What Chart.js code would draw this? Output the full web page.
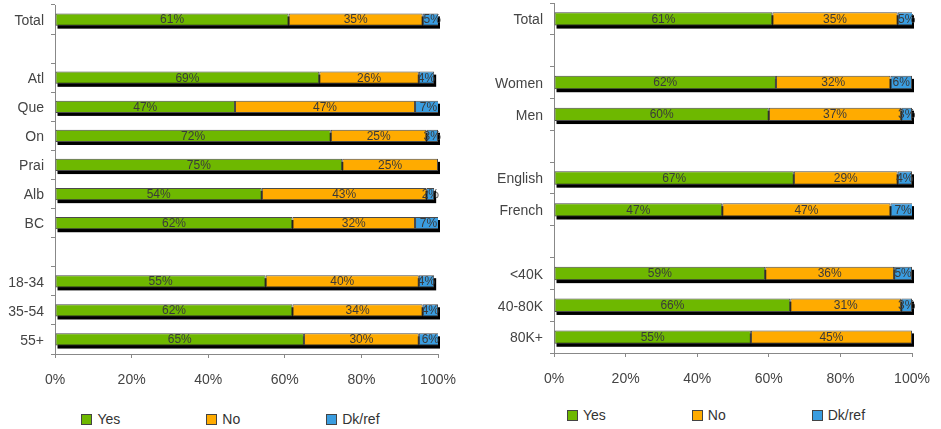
<!DOCTYPE html>
<html><head><meta charset="utf-8">
<script src="https://cdn.jsdelivr.net/npm/chart.js@4/dist/chart.umd.min.js"></script>
<style>
html,body{margin:0;padding:0;background:#fff;width:941px;height:429px;overflow:hidden;font-family:'Liberation Sans',Arial,sans-serif;}
.wrap{position:absolute;top:0;}
.legend{position:absolute;display:flex;justify-content:center;gap:86px;font-size:14px;color:#333;line-height:16px;}
.item{display:flex;align-items:center;}
.sw{width:9px;height:9px;border:1px solid #444;margin-right:5px;}
</style></head><body>
<div class="wrap" style="left:0;width:461px;height:400px;"><canvas id="c1" width="461" height="400"></canvas></div>
<div class="wrap" style="left:491px;width:450px;height:400px;"><canvas id="c2" width="450" height="400"></canvas></div>
<div class="legend" id="lg1" style="left:0;width:461px;top:411px;"></div>
<div class="legend" id="lg2" style="left:491px;width:450px;top:407px;"></div>
<script>
const seriesNames = ['Yes', 'No', 'Dk/ref'];
const seriesColors = ['#6eb800', '#ffab00', '#3a9de0'];
const xTickValues = [0, 20, 40, 60, 80, 100];

const leftCategories = ['Total', '', 'Atl', 'Que', 'On', 'Prai', 'Alb', 'BC', '', '18-34', '35-54', '55+'];
const leftYes = [61, null, 69, 47, 72, 75, 54, 62, null, 55, 62, 65];
const leftNo  = [35, null, 26, 47, 25, 25, 43, 32, null, 40, 34, 30];
const leftDk  = [5, null, 4, 7, 3, 0, 2, 7, null, 4, 4, 6];

const rightCategories = ['Total', '', 'Women', 'Men', '', 'English', 'French', '', '<40K', '40-80K', '80K+'];
const rightYes = [61, null, 62, 60, null, 67, 47, null, 59, 66, 55];
const rightNo  = [35, null, 32, 37, null, 29, 47, null, 36, 31, 45];
const rightDk  = [5, null, 6, 3, null, 4, 7, null, 5, 3, 0];

const FONT = "'Liberation Sans', Arial, sans-serif";

const shadowPlugin = {
  id: 'barShadow',
  beforeDatasetsDraw(chart) {
    const ctx = chart.ctx, area = chart.chartArea;
    const n = chart.data.labels.length;
    ctx.save();
    ctx.fillStyle = '#000';
    for (let j = 0; j < n; j++) {
      let l = Infinity, r = -Infinity, t = 0, b = 0;
      chart.data.datasets.forEach((ds, i) => {
        if (ds.data[j] == null) return;
        const el = chart.getDatasetMeta(i).data[j];
        if (!el) return;
        const p = el.getProps(['x', 'y', 'base', 'height'], true);
        l = Math.min(l, p.base, p.x);
        r = Math.max(r, p.base, p.x);
        t = p.y - p.height / 2; b = p.y + p.height / 2;
      });
      if (r > l) {
        r = Math.min(r, area.right);
        ctx.fillRect(l + 2, t + 3, r - l, b - t);
      }
    }
    ctx.restore();
  }
};

const labelPlugin = {
  id: 'segLabels',
  afterDatasetsDraw(chart) {
    const ctx = chart.ctx;
    ctx.save();
    ctx.font = '12px ' + FONT;
    ctx.fillStyle = '#3a3a3a';
    ctx.textAlign = 'center';
    ctx.textBaseline = 'middle';
    chart.data.datasets.forEach((ds, i) => {
      const meta = chart.getDatasetMeta(i);
      meta.data.forEach((el, j) => {
        const v = ds.data[j];
        if (!v) return;
        const p = el.getProps(['x', 'y', 'base'], true);
        ctx.fillText(v + '%', (p.x + p.base) / 2, p.y + 0.5);
      });
    });
    ctx.restore();
  }
};

function makeChart(id, cats, series, yWidth, padTop, padRight, xHeight, catPct) {
  return new Chart(document.getElementById(id), {
    type: 'bar',
    data: {
      labels: cats,
      datasets: series.map((d, i) => ({
        label: seriesNames[i],
        data: d,
        backgroundColor: seriesColors[i],
        borderColor: '#4a4a4a',
        borderWidth: 1,
        borderSkipped: false,
        barPercentage: 1,
        categoryPercentage: catPct,
        clip: 0
      }))
    },
    options: {
      indexAxis: 'y',
      responsive: false,
      animation: false,
      layout: { padding: { top: padTop, right: padRight, left: 0, bottom: 0 } },
      plugins: { legend: { display: false }, tooltip: { enabled: false } },
      scales: {
        x: {
          stacked: true, min: 0, max: 100,
          afterBuildTicks: s => { s.ticks = xTickValues.map(v => ({ value: v })); },
          afterFit: s => { s.height = xHeight; s.paddingLeft = 0; s.paddingRight = 0; },
          grid: { display: true, drawOnChartArea: false, drawTicks: true, tickLength: 4, color: '#888' },
          border: { display: true, color: '#888' },
          ticks: { callback: v => v + '%', color: '#444', padding: 14, font: { family: FONT, size: 14 }, maxRotation: 0 }
        },
        y: {
          stacked: true,
          afterFit: s => { s.width = yWidth; s.paddingTop = 0; s.paddingBottom = 0; },
          grid: { display: true, drawOnChartArea: false, drawTicks: true, tickLength: 4, color: '#888', offset: true },
          border: { display: true, color: '#888' },
          ticks: { color: '#444', padding: 7, labelOffset: 1.5, font: { family: FONT, size: 14 }, autoSkip: false }
        }
      }
    },
    plugins: [shadowPlugin, labelPlugin]
  });
}

makeChart('c1', leftCategories, [leftYes, leftNo, leftDk], 55, 5, 23, 46, 0.42);
makeChart('c2', rightCategories, [rightYes, rightNo, rightDk], 63, 3, 29, 47, 0.42);

function makeLegend(id) {
  const el = document.getElementById(id);
  seriesNames.forEach((n, i) => {
    const it = document.createElement('div'); it.className = 'item';
    const sw = document.createElement('div'); sw.className = 'sw'; sw.style.background = seriesColors[i];
    const tx = document.createElement('span'); tx.textContent = n;
    it.appendChild(sw); it.appendChild(tx); el.appendChild(it);
  });
}
makeLegend('lg1');
makeLegend('lg2');
</script>
</body></html>
